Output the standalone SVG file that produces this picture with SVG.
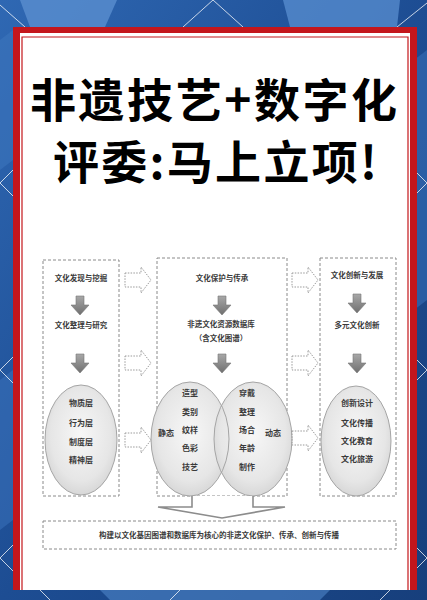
<svg xmlns="http://www.w3.org/2000/svg" xmlns:xlink="http://www.w3.org/1999/xlink" width="427" height="600" viewBox="0 0 427 600">
<defs>
<linearGradient id="bg" x1="0" y1="0" x2="1" y2="1">
<stop offset="0" stop-color="#2f68b3"/>
<stop offset="0.5" stop-color="#1d4d93"/>
<stop offset="1" stop-color="#173f7c"/>
</linearGradient>
<radialGradient id="ell" cx="0.5" cy="0.45" r="0.6">
<stop offset="0" stop-color="#f7f7f7"/>
<stop offset="0.7" stop-color="#e6e6e6"/>
<stop offset="1" stop-color="#d2d2d2"/>
</radialGradient>
<linearGradient id="dg" x1="0" y1="0" x2="0" y2="1">
<stop offset="0" stop-color="#a8a8a8"/>
<stop offset="1" stop-color="#6f6f6f"/>
</linearGradient>
<path id="down" d="M-4,0 h8 v9 h5 l-9,10 l-9,-10 h5 z" fill="url(#dg)" stroke="#777" stroke-width="0.6"/>
<path id="rarr" d="M0,-7 h16 v-6 l10,13 l-10,13 v-6 h-16 z" fill="none" stroke="#9a9a9a" stroke-width="1" stroke-dasharray="1.5,1.3"/>
<style>
.t{font-family:"Noto Sans CJK SC","Noto Sans CJK JP",sans-serif;font-weight:bold;fill:#000}
.s{font-family:"Noto Sans CJK SC","Noto Sans CJK JP",sans-serif;font-weight:bold;fill:#3a3a3a;font-size:7.5px;text-anchor:middle}
.e{font-size:8px}
.box{fill:none;stroke:#8a8a8a;stroke-width:1;stroke-dasharray:3,2}
.ef{fill:url(#ell);stroke:none}
.es{fill:none;stroke:#a5a5a5;stroke-width:1}
.wl{stroke:#ffffff;stroke-opacity:0.75;stroke-width:1;fill:none}
</style>
</defs>
<!-- background -->
<rect x="0" y="0" width="427" height="600" fill="url(#bg)"/>
<polygon points="20,0 117,0 105,27 30,27" fill="#5a8fd0" opacity="0.8"/>
<polygon points="283,0 400,0 397,27 290,27" fill="#5d93d4" opacity="0.7"/>
<polygon points="0,40 13,30 13,160 0,170" fill="#3c74bd" opacity="0.6"/>
<polygon points="0,380 13,370 13,520 0,530" fill="#3c74bd" opacity="0.5"/>
<polygon points="414,60 427,50 427,300 414,310" fill="#3c74bd" opacity="0.5"/>
<polygon points="100,590 330,590 320,600 110,600" fill="#4f86c8" opacity="0.6"/>
<g class="wl">
<polyline points="0,5 25,27"/>
<polyline points="183,27 213,0 243,27"/>
<polyline points="397,27 427,3"/>
<polyline points="13,170 0,183 13,196"/>
<polyline points="13,357 0,370 13,383"/>
<polyline points="13,545 0,558 13,571"/>
<polyline points="414,170 427,183 414,196"/>
<polyline points="414,357 427,370 414,383"/>
<polyline points="414,545 427,558 414,571"/>
<polyline points="40,590 50,600"/>
<polyline points="170,600 180,590"/>
<polyline points="380,600 390,590"/>
</g>
<!-- card -->
<rect x="13" y="27" width="404" height="563" fill="#c4161c"/>
<rect x="20" y="33" width="390" height="557" fill="#ffffff"/>
<path d="M22,590 V37 H408 V590" fill="none" stroke="#c4161c" stroke-width="1.2"/>
<!-- title -->
<g id="title">
<text class="t" x="30" y="117" font-size="46" textLength="367" lengthAdjust="spacing">非遗技艺+数字化</text>
<text class="t" x="53" y="179" font-size="46" textLength="324" lengthAdjust="spacing">评委:马上立项!</text>
</g>
<!-- columns -->
<g id="col-left">
<rect class="box" x="43" y="260" width="76" height="236"/>
<text class="s" x="81" y="281">文化发现与挖掘</text>
<text class="s" x="81" y="328">文化整理与研究</text>
<ellipse class="ef" cx="81" cy="440" rx="36" ry="55"/>
<ellipse class="es" cx="81" cy="440" rx="36" ry="55"/>
<text class="s e" x="81" y="406">物质层</text>
<text class="s e" x="81" y="426">行为层</text>
<text class="s e" x="81" y="445">制度层</text>
<text class="s e" x="81" y="463">精神层</text>
</g>
<g id="col-middle">
<rect class="box" x="157" y="258" width="130" height="238"/>
<text class="s" x="222" y="281">文化保护与传承</text>
<text class="s" x="221" y="327">非遗文化资源数据库</text>
<text class="s" x="221" y="341">（含文化图谱）</text>
<ellipse class="ef" cx="190" cy="439" rx="39" ry="57"/>
<ellipse class="ef" cx="253" cy="439" rx="39" ry="57"/>
<ellipse class="es" cx="190" cy="439" rx="39" ry="57"/>
<ellipse class="es" cx="253" cy="439" rx="39" ry="57"/>
<text class="s e" x="190" y="396">造型</text>
<text class="s e" x="190" y="415">类别</text>
<text class="s e" x="190" y="433">纹样</text>
<text class="s e" x="190" y="451">色彩</text>
<text class="s e" x="190" y="470">技艺</text>
<text class="s e" x="166" y="436">静态</text>
<text class="s e" x="247" y="396">穿戴</text>
<text class="s e" x="247" y="415">整理</text>
<text class="s e" x="247" y="433">场合</text>
<text class="s e" x="247" y="451">年龄</text>
<text class="s e" x="247" y="470">制作</text>
<text class="s e" x="273" y="436">动态</text>
</g>
<g id="col-right">
<rect class="box" x="320" y="258" width="76" height="238"/>
<text class="s" x="357" y="278">文化创新与发展</text>
<text class="s" x="357" y="328">多元文化创新</text>
<ellipse class="ef" cx="356" cy="441" rx="35" ry="55"/>
<ellipse class="es" cx="356" cy="441" rx="35" ry="55"/>
<text class="s e" x="357" y="406">创新设计</text>
<text class="s e" x="357" y="426">文化传播</text>
<text class="s e" x="357" y="444">文化教育</text>
<text class="s e" x="357" y="462">文化旅游</text>
</g>
<g id="bottom-box">
<rect class="box" x="43" y="521" width="353" height="28"/>
<text class="s" x="219" y="538">构建以文化基因图谱和数据库为核心的非遗文化保护、传承、创新与传播</text>
</g>
<!-- connectors -->
<g id="connectors">
<use xlink:href="#down" x="80" y="296"/>
<use xlink:href="#down" x="80" y="354"/>
<use xlink:href="#down" x="222" y="296"/>
<use xlink:href="#down" x="222" y="354"/>
<use xlink:href="#down" x="357" y="294"/>
<use xlink:href="#down" x="357" y="354"/>
<use xlink:href="#rarr" x="125" y="280"/>
<use xlink:href="#rarr" x="125" y="363"/>
<use xlink:href="#rarr" x="125" y="440"/>
<use xlink:href="#rarr" x="292" y="280"/>
<use xlink:href="#rarr" x="292" y="363"/>
<use xlink:href="#rarr" x="292" y="438"/>
<path d="M192,496 V507 H158 L222,518 L285,507 H253 V496" fill="#ffffff" stroke="#8c8c8c" stroke-width="1.6" stroke-linejoin="miter"/>
</g>
</svg>
